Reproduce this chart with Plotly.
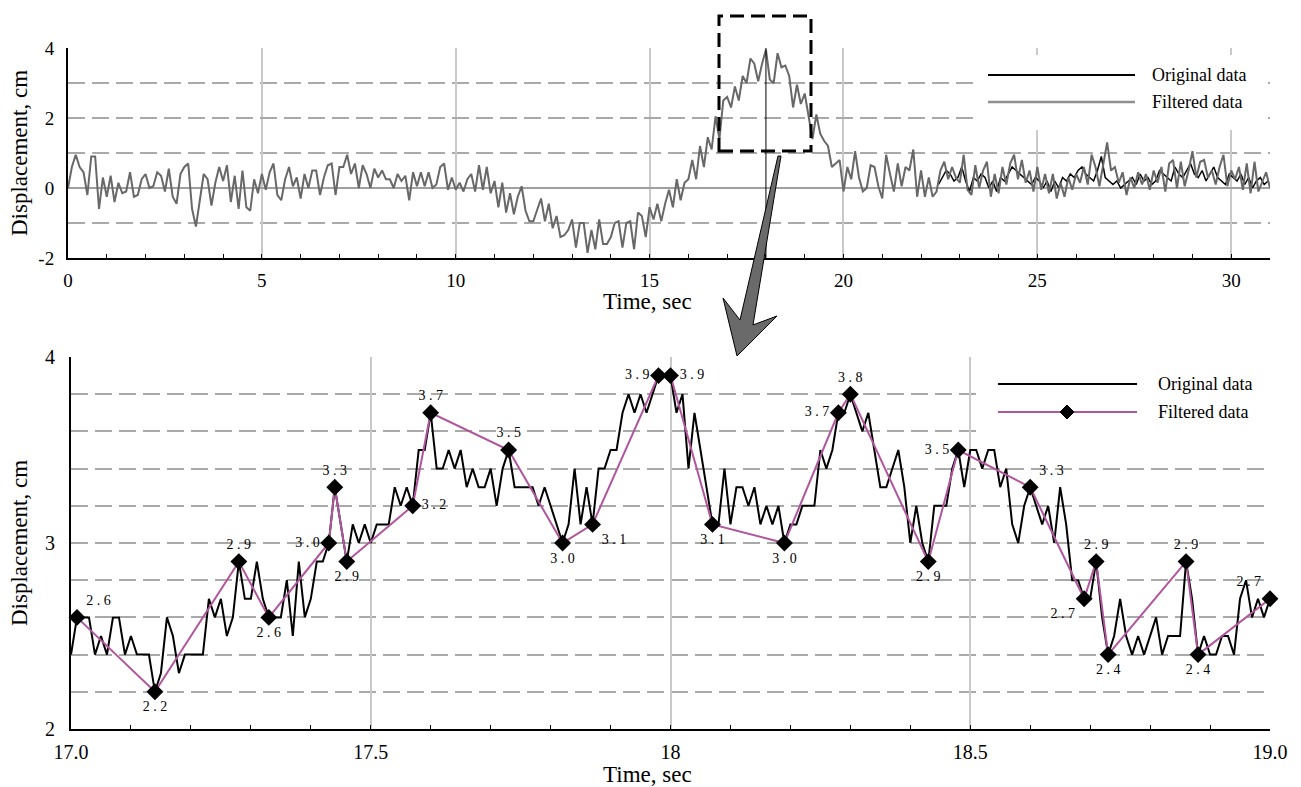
import numpy as np
import plotly.graph_objects as go

# ---------------- data ----------------
# Full record, filtered signal sampled every 0.1 s from 0 to 31 s
top_dt = 0.1
top_filtered = [
    0.0, 0.6, 0.95, 0.6, 0.45, -0.2, 0.9, 0.9, -0.6, 0.3,
    -0.25, 0.35, -0.4, 0.15, -0.15, -0.1, 0.45, -0.25, -0.2, 0.25,
    0.4, 0.0, 0.05, 0.45, 0.35, -0.1, 0.55, -0.25, -0.45, 0.4,
    0.6, 0.7, -0.6, -1.1, -0.35, 0.4, 0.25, -0.5, 0.15, 0.6,
    0.2, 0.65, -0.4, 0.35, -0.6, 0.5, -0.55, -0.65, 0.25, -0.15,
    0.4, -0.05, 0.45, 0.7, -0.2, -0.35, 0.25, 0.6, 0.05, 0.3,
    -0.3, 0.4, 0.0, 0.5, 0.5, -0.2, 0.3, 0.65, 0.7, -0.2,
    0.6, 0.6, 0.95, 0.4, 0.7, 0.0, 0.65, 0.4, 0.0, 0.55,
    0.3, 0.5, 0.25, 0.25, 0.0, 0.4, 0.2, 0.35, -0.35, 0.45,
    0.05, 0.45, 0.05, 0.45, 0.0, 0.1, 0.6, 0.7, -0.05, 0.3,
    -0.05, 0.15, -0.1, 0.25, 0.4, -0.1, 0.65, -0.05, 0.6, -0.15,
    0.2, -0.55, 0.15, -0.7, -0.15, -0.75, -0.25, 0.05, -0.65, -0.95,
    -0.95, -0.65, -0.3, -0.95, -0.45, -1.15, -0.8, -1.4, -1.35, -1.2,
    -0.9, -1.7, -1.0, -1.0, -1.85, -1.2, -1.75, -0.9, -1.6, -1.6,
    -1.4, -1.0, -0.95, -1.7, -1.0, -0.95, -1.75, -0.7, -0.8, -1.4,
    -0.55, -0.9, -0.45, -0.95, -0.45, -0.05, -0.55, 0.25, -0.35, 0.15,
    0.25, 0.8, 0.25, 1.2, 0.6, 1.45, 1.1, 2.05, 1.4, 2.5,
    2.6, 2.3, 2.9, 2.5, 3.2, 3.0, 3.7, 3.55, 3.05, 3.55,
    3.95, 3.1, 3.0, 3.85, 3.45, 3.5, 3.2, 2.3, 2.95, 2.4,
    2.7, 2.05, 1.4, 2.1, 1.55, 1.35, 1.2, 0.6, 0.7, 0.8,
    -0.1, 0.6, 0.25, 1.05, 0.3, -0.1, 0.0, 0.65, 0.6, 0.05,
    -0.3, 0.95, 0.4, -0.1, 0.7, 0.05, 0.6, 0.5, 1.1, -0.25,
    0.5, -0.25, 0.3, -0.25, -0.1, 0.5, 0.75, 0.25, 0.6, 0.3,
    0.15, 0.95, -0.05, -0.2, 0.65, 0.0, 0.5, 0.75, -0.25, 0.4,
    -0.15, 0.6, 0.1, 0.7, 0.95, 0.25, 0.8, 0.15, 0.5, -0.1,
    0.6, -0.05, 0.4, -0.15, 0.4, -0.3, 0.15, -0.25, 0.3, -0.05,
    0.4, 0.15, 0.6, 0.1, 0.95, 0.6, 0.05, 0.7, 1.3, 0.5,
    0.6, 0.15, 0.45, -0.2, 0.3, 0.0, 0.45, 0.1, 0.4, -0.05,
    0.5, 0.15, 0.6, -0.1, 0.7, 0.8, 0.0, 0.75, 0.05, 0.5,
    1.05, 0.3, 0.75, 0.8, 0.3, 0.5, 0.1, 0.6, 0.95, 0.05,
    0.5, 0.25, 0.6, -0.05, 0.7, -0.15, 0.75, -0.1, 0.15, 0.45,
    0.0,
]

# Raw signal where it shows apart from the filtered one (22.45 s onward, 0.1 s step)
top_original_start = 22.45
top_original = [
    0.1, 0.3, 0.5, 0.4, 0.2, 0.3, 0.6, 0.2, -0.1, 0.3,
    0.2, 0.4, 0.3, 0.0, 0.2, -0.1, 0.3, 0.2, 0.4, 0.6,
    0.5, 0.4, 0.3, 0.2, 0.1, 0.3, 0.2, 0.0, 0.2, -0.1,
    0.2, 0.0, 0.3, 0.2, 0.4, 0.3, 0.5, 0.6, 0.4, 0.3,
    0.2, 0.5, 0.9, 0.3, 0.2, 0.1, 0.2, 0.0, 0.1, 0.2,
    0.3, 0.1, 0.4, 0.2, 0.3, 0.1, 0.2, 0.5, 0.4, 0.3,
    0.2, 0.6, 0.4, 0.3, 0.5, 0.7, 0.4, 0.3, 0.5, 0.2,
    0.4, 0.6, 0.3, 0.2, 0.1, 0.4, 0.3, 0.2, 0.4, 0.1,
    0.3, 0.0, 0.2, 0.3, 0.1, 0.2,
]

# Detail window 17-19 s: raw samples every 0.01 s
zoom_start = 17.0
zoom_dt = 0.01
zoom_original = [
    2.4, 2.6, 2.6, 2.6, 2.4, 2.5, 2.4, 2.6, 2.6, 2.4,   # 17.00
    2.5, 2.4, 2.4, 2.4, 2.2, 2.3, 2.6, 2.5, 2.3, 2.4,   # 17.10
    2.4, 2.4, 2.4, 2.7, 2.6, 2.7, 2.5, 2.6, 2.9, 2.7,   # 17.20
    2.7, 2.9, 2.7, 2.6, 2.6, 2.6, 2.8, 2.5, 2.9, 2.6,   # 17.30
    2.7, 2.9, 2.9, 3.0, 3.3, 3.1, 2.9, 3.1, 3.0, 3.1,   # 17.40
    3.0, 3.1, 3.1, 3.1, 3.3, 3.2, 3.3, 3.2, 3.5, 3.5,   # 17.50
    3.7, 3.4, 3.4, 3.5, 3.4, 3.5, 3.3, 3.4, 3.3, 3.3,   # 17.60
    3.4, 3.2, 3.4, 3.5, 3.3, 3.3, 3.3, 3.3, 3.2, 3.3,   # 17.70
    3.2, 3.1, 3.0, 3.1, 3.4, 3.1, 3.3, 3.1, 3.4, 3.4,   # 17.80
    3.5, 3.5, 3.7, 3.8, 3.7, 3.8, 3.7, 3.8, 3.9, 3.9,   # 17.90
    3.9, 3.7, 3.8, 3.4, 3.7, 3.5, 3.3, 3.1, 3.1, 3.4,   # 18.00
    3.1, 3.3, 3.3, 3.2, 3.3, 3.1, 3.2, 3.1, 3.2, 3.0,   # 18.10
    3.1, 3.1, 3.2, 3.2, 3.2, 3.5, 3.4, 3.5, 3.7, 3.7,   # 18.20
    3.8, 3.7, 3.6, 3.7, 3.5, 3.3, 3.3, 3.4, 3.5, 3.3,   # 18.30
    3.0, 3.2, 3.0, 2.9, 3.2, 3.2, 3.2, 3.4, 3.5, 3.3,   # 18.40
    3.5, 3.5, 3.4, 3.5, 3.5, 3.3, 3.4, 3.1, 3.0, 3.2,   # 18.50
    3.3, 3.2, 3.1, 3.2, 3.0, 3.3, 3.1, 2.8, 2.8, 2.7,   # 18.60
    2.7, 2.9, 2.6, 2.4, 2.5, 2.7, 2.5, 2.4, 2.5, 2.4,   # 18.70
    2.5, 2.6, 2.4, 2.5, 2.5, 2.5, 2.9, 2.7, 2.4, 2.5,   # 18.80
    2.4, 2.4, 2.5, 2.5, 2.4, 2.7, 2.8, 2.6, 2.7, 2.6,   # 18.90
    2.7,                                                # 19.00
]

# Filtered points kept in the detail window
filt_time = [17.01, 17.14, 17.28, 17.33, 17.43, 17.44, 17.46, 17.57, 17.60,
             17.73, 17.82, 17.87, 17.98, 18.00, 18.07, 18.19, 18.28, 18.30,
             18.43, 18.48, 18.60, 18.69, 18.71, 18.73, 18.86, 18.88, 19.00]
filt_value = [2.6, 2.2, 2.9, 2.6, 3.0, 3.3, 2.9, 3.2, 3.7,
              3.5, 3.0, 3.1, 3.9, 3.9, 3.1, 3.0, 3.7, 3.8,
              2.9, 3.5, 3.3, 2.7, 2.9, 2.4, 2.9, 2.4, 2.7]
filt_label_pos = ["top right", "bottom center", "top center", "bottom center",
                  "middle left", "top center", "bottom center", "middle right",
                  "top center", "top center", "bottom center", "bottom right",
                  "middle left", "middle right", "bottom center", "bottom center",
                  "middle left", "top center", "bottom center", "middle left",
                  "top right", "bottom left", "top center", "bottom center",
                  "top center", "bottom center", "top left"]

top_xticks = [0, 5, 10, 15, 20, 25, 30]
top_yticks = [-2, 0, 2, 4]
top_ytick_text = ["-2", "0", "2", "4"]
zoom_xticks = [17.0, 17.5, 18.0, 18.5, 19.0]
zoom_xtick_text = ["17.0", "17.5", "18", "18.5", "19.0"]
zoom_yticks = [2, 3, 4]

# ---------------- page geometry helpers ----------------
W, H = 1301, 787


def px(x):
    return x / W


def py(y):
    return 1 - y / H


FONT = "Liberation Serif"
GRID_H = "#a9a9a9"
GRID_V = "#c9c9c9"
MAGENTA = "#b1569d"

top_t = np.round(np.arange(len(top_filtered)) * top_dt, 3)
top_orig_t = np.round(top_original_start + np.arange(len(top_original)) * top_dt, 3)
zoom_t = np.round(zoom_start + np.arange(len(zoom_original)) * zoom_dt, 3)
labels = [" ".join(f"{v:.1f}") for v in filt_value]

fig = go.Figure()

fig.add_trace(go.Scatter(x=top_orig_t, y=top_original, mode="lines",
                         line=dict(color="black", width=1.5),
                         xaxis="x", yaxis="y", showlegend=False))
fig.add_trace(go.Scatter(x=top_t, y=top_filtered, mode="lines",
                         line=dict(color="#686868", width=2),
                         xaxis="x", yaxis="y", showlegend=False))

fig.add_trace(go.Scatter(x=zoom_t, y=zoom_original, mode="lines",
                         line=dict(color="black", width=2),
                         xaxis="x2", yaxis="y2", showlegend=False))
fig.add_trace(go.Scatter(x=filt_time, y=filt_value, mode="lines+markers+text",
                         line=dict(color=MAGENTA, width=2),
                         marker=dict(symbol="diamond", size=13, color="black"),
                         text=labels, textposition=filt_label_pos,
                         textfont=dict(family=FONT, size=14, color="black"),
                         cliponaxis=False,
                         xaxis="x2", yaxis="y2", showlegend=False))

tick19 = dict(family=FONT, size=19, color="black")
tick20 = dict(family=FONT, size=20, color="black")

fig.update_layout(
    template="none",
    width=W, height=H,
    margin=dict(l=0, r=0, t=0, b=0, pad=0, autoexpand=False),
    paper_bgcolor="white", plot_bgcolor="white",
    font=dict(family=FONT, size=19, color="black"),
    showlegend=False,
    xaxis=dict(domain=[px(68), px(1270)], range=[0, 31], anchor="y",
               automargin=False,
               showline=True, linecolor="black", linewidth=2, zeroline=False,
               tickmode="array", tickvals=top_xticks, tickfont=tick19,
               ticks="inside", ticklen=4, tickcolor="black",
               showgrid=True, gridcolor=GRID_V, gridwidth=1.5,
               minor=dict(dtick=1, tick0=0, ticks="inside", ticklen=4,
                          tickcolor="black", showgrid=False),
               ticklabelstandoff=4),
    yaxis=dict(domain=[py(258), py(48)], range=[-2, 4], anchor="x",
               automargin=False,
               showline=True, linecolor="black", linewidth=2,
               tickmode="array", tickvals=top_yticks, ticktext=top_ytick_text,
               ticks="", tickfont=tick19,
               showgrid=True, gridcolor=GRID_H, gridwidth=1.5, griddash="17px,7px",
               minor=dict(dtick=1, tick0=0, showgrid=True, gridcolor=GRID_H,
                          gridwidth=1.5, griddash="17px,7px"),
               zeroline=True, zerolinecolor="#a0a0a0", zerolinewidth=1.5,
               ticklabelstandoff=8),
    xaxis2=dict(domain=[px(71), px(1270)], range=[17, 19], anchor="y2",
                automargin=False,
                showline=True, linecolor="black", linewidth=2, zeroline=False,
                tickmode="array", tickvals=zoom_xticks, ticktext=zoom_xtick_text,
                tickfont=tick20,
                ticks="inside", ticklen=4, tickcolor="black",
                showgrid=True, gridcolor=GRID_V, gridwidth=1.5,
                minor=dict(dtick=0.1, tick0=17, ticks="inside", ticklen=4,
                           tickcolor="black", showgrid=False),
                ticklabelstandoff=4),
    yaxis2=dict(domain=[py(729), py(357)], range=[2, 4], anchor="x2",
                automargin=False,
                showline=True, linecolor="black", linewidth=2, zeroline=False,
                tickmode="array", tickvals=zoom_yticks, ticks="", tickfont=tick20,
                showgrid=True, gridcolor=GRID_H, gridwidth=1.5, griddash="17px,7px",
                minor=dict(dtick=0.2, tick0=2, showgrid=True, gridcolor=GRID_H,
                           gridwidth=1.5, griddash="17px,7px"),
                ticklabelstandoff=10),
)

shapes = []

# marker line at 18 s in the full record
shapes.append(dict(type="line", xref="x", yref="y", x0=18.0, x1=18.0, y0=-2, y1=4,
                   line=dict(color="black", width=1), layer="above"))

# dashed frame around the detail window
shapes.append(dict(type="rect", xref="paper", yref="paper",
                   x0=px(719), x1=px(811), y0=py(151), y1=py(16),
                   line=dict(color="black", width=3, dash="14px,7px"),
                   fillcolor="rgba(0,0,0,0)", layer="above"))

# pointer arrow from the frame down to the detail plot
arrow_pts = [(781, 156), (753, 325), (777, 316), (737, 356), (723, 298), (740, 320), (778, 156)]
arrow_path = "M " + " L ".join(f"{px(x):.5f},{py(y):.5f}" for x, y in arrow_pts) + " Z"
shapes.append(dict(type="path", xref="paper", yref="paper", path=arrow_path,
                   fillcolor="#6a6a6a", line=dict(color="black", width=1), layer="above"))

# legend boxes
shapes.append(dict(type="rect", xref="paper", yref="paper",
                   x0=px(975), x1=px(1267), y0=py(130), y1=py(55),
                   fillcolor="white", line=dict(width=0), layer="above"))
shapes.append(dict(type="line", xref="paper", yref="paper",
                   x0=px(988), x1=px(1135), y0=py(75), y1=py(75),
                   line=dict(color="black", width=2), layer="above"))
shapes.append(dict(type="line", xref="paper", yref="paper",
                   x0=px(988), x1=px(1135), y0=py(102), y1=py(102),
                   line=dict(color="#8f8f8f", width=2.5), layer="above"))

shapes.append(dict(type="rect", xref="paper", yref="paper",
                   x0=px(978), x1=px(1267), y0=py(440), y1=py(362),
                   fillcolor="white", line=dict(width=0), layer="above"))
shapes.append(dict(type="line", xref="paper", yref="paper",
                   x0=px(998), x1=px(1137), y0=py(384), y1=py(384),
                   line=dict(color="black", width=2), layer="above"))
shapes.append(dict(type="line", xref="paper", yref="paper",
                   x0=px(998), x1=px(1137), y0=py(412), y1=py(412),
                   line=dict(color=MAGENTA, width=2), layer="above"))
dia = [(1067, 405), (1074, 412), (1067, 419), (1060, 412)]
shapes.append(dict(type="path", xref="paper", yref="paper",
                   path="M " + " L ".join(f"{px(x):.5f},{py(y):.5f}" for x, y in dia) + " Z",
                   fillcolor="black", line=dict(color="black", width=1), layer="above"))

fig.update_layout(shapes=shapes)

annotations = []
title_font = dict(family=FONT, size=23, color="black")
legend_font = dict(family=FONT, size=18, color="black")


def note(x, y, text, font, xanchor="center", angle=0):
    annotations.append(dict(xref="paper", yref="paper", x=px(x), y=py(y), text=text,
                            showarrow=False, font=font, xanchor=xanchor,
                            yanchor="middle", textangle=angle))


note(19, 153, "Displacement, cm", title_font, angle=-90)
note(19, 543, "Displacement, cm", title_font, angle=-90)
note(647, 301, "Time, sec", title_font)
note(647, 774, "Time, sec", title_font)
note(1150, 75, "Original data", legend_font, xanchor="left")
note(1150, 102, "Filtered data", legend_font, xanchor="left")
note(1156, 384, "Original data", legend_font, xanchor="left")
note(1156, 412, "Filtered data", legend_font, xanchor="left")

fig.update_layout(annotations=annotations)

fig.write_html("out.html")
